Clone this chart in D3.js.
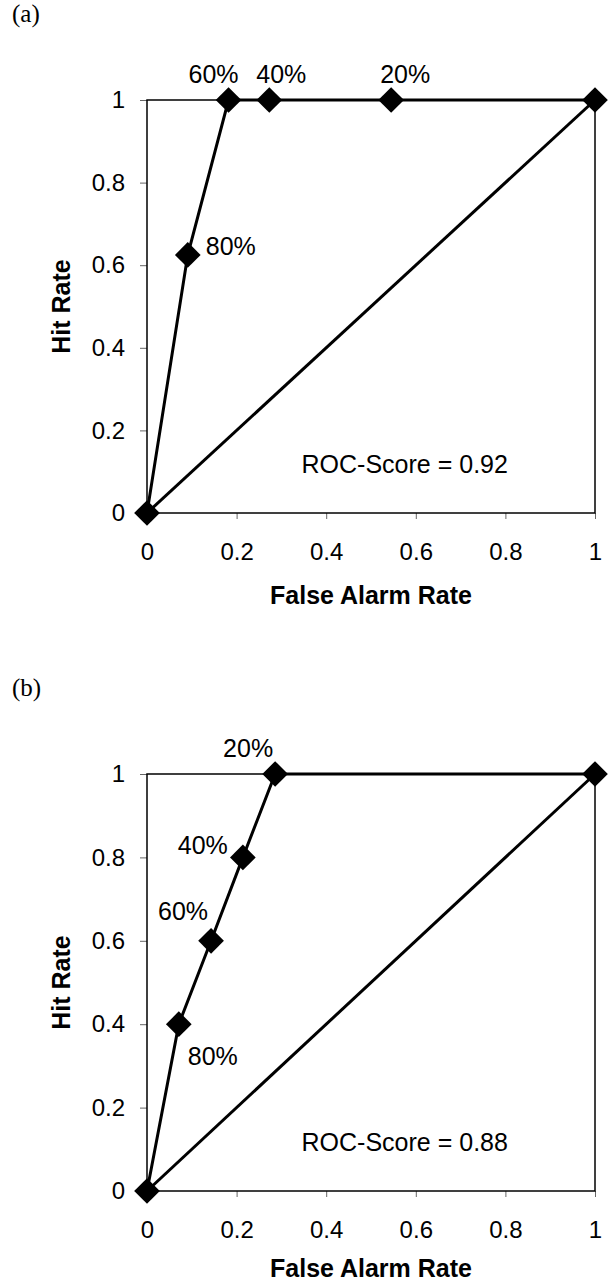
<!DOCTYPE html>
<html>
<head>
<meta charset="utf-8">
<script src="https://cdn.jsdelivr.net/npm/d3@7"></script>
<style>
  body { margin: 0; background: #fff; }
  text { font-family: "Liberation Sans", Arial, sans-serif; fill: #000; }
</style>
</head>
<body>
<div id="chart"></div>
<script>
// values
let panelNames = ["(a)", "(b)"];
let farA = [0, 0.091, 0.182, 0.273, 0.545, 1];
let hitA = [0, 0.625, 1, 1, 1, 1];
let labA = ["", "80%", "60%", "40%", "20%", ""];
let farB = [0, 0.071, 0.143, 0.214, 0.286, 1];
let hitB = [0, 0.4, 0.6, 0.8, 1, 1];
let labB = ["", "80%", "60%", "40%", "20%", ""];
let rocScores = ["0.92", "0.88"];
let axisTicks = [0, 0.2, 0.4, 0.6, 0.8, 1];

// layout only (label nudges in px, panel frames)
let nudgeA = { "80%": [18, 0, "start"], "60%": [-15, -17, "middle"], "40%": [12, -17, "middle"], "20%": [14, -17, "middle"] };
let nudgeB = { "80%": [9, 41, "start"], "60%": [-3, -21, "end"], "40%": [-15, -3, "end"], "20%": [-2, -17, "end"] };

const W = 612, H = 1283;
const left = 147, right = 595;

let svg = d3.select("#chart").append("svg")
    .attr("width", W)
    .attr("height", H);

function drawPanel(name, far, hit, labels, nudge, score, top, bottom) {
    let x = d3.scaleLinear().domain([0, 1]).range([left, right]);
    let y = d3.scaleLinear().domain([0, 1]).range([bottom, top]);
    let g = svg.append("g");
    let pts = far.map((d, i) => ({ x: d, y: hit[i], lab: labels[i] }));

    // panel label
    g.append("text")
        .attr("x", 12)
        .attr("y", top - 78)
        .style("font-family", "'Liberation Serif', 'Times New Roman', serif")
        .style("font-size", "25px")
        .text(name);

    // axes
    let fmt = d3.format("~g");
    let xAxis = g.append("g")
        .attr("transform", "translate(0," + bottom + ")")
        .call(d3.axisBottom(x).tickValues(axisTicks).tickFormat(fmt)
            .tickSizeInner(6).tickSizeOuter(0).tickPadding(24));
    let yAxis = g.append("g")
        .attr("transform", "translate(" + left + ",0)")
        .call(d3.axisLeft(y).tickValues(axisTicks).tickFormat(fmt)
            .tickSizeInner(7).tickSizeOuter(0).tickPadding(15));
    [xAxis, yAxis].forEach(a => {
        a.select(".domain").remove();
        a.selectAll(".tick line").attr("stroke", "#666").attr("stroke-width", 1);
        a.selectAll(".tick text").style("font-size", "24px").attr("fill", "#000");
    });

    // frame
    g.append("rect")
        .attr("x", left).attr("y", top)
        .attr("width", right - left).attr("height", bottom - top)
        .attr("fill", "none").attr("stroke", "#000").attr("stroke-width", 1.5);

    // no-skill diagonal
    let line = d3.line().x(d => x(d.x)).y(d => y(d.y));
    g.append("path")
        .datum([pts[0], pts[pts.length - 1]])
        .attr("d", line)
        .attr("fill", "none").attr("stroke", "#000").attr("stroke-width", 3);

    // ROC curve
    g.append("path")
        .datum(pts)
        .attr("d", line)
        .attr("fill", "none").attr("stroke", "#000").attr("stroke-width", 3);

    // diamonds
    g.selectAll(".pt")
        .data(pts)
        .enter()
        .append("path")
        .attr("d", d3.symbol(d3.symbolSquare, 330))
        .attr("transform", d => "translate(" + x(d.x) + "," + y(d.y) + ") rotate(45)")
        .attr("fill", "#000");

    // threshold labels
    g.selectAll(".lab")
        .data(pts.filter(d => d.lab))
        .enter()
        .append("text")
        .attr("x", d => x(d.x) + nudge[d.lab][0])
        .attr("y", d => y(d.y) + nudge[d.lab][1])
        .attr("text-anchor", d => nudge[d.lab][2])
        .style("font-size", "25px")
        .text(d => d.lab);

    // score
    g.append("text")
        .attr("x", x(0.345))
        .attr("y", bottom - 40)
        .style("font-size", "25px")
        .text("ROC-Score = " + score);

    // axis titles
    g.append("text")
        .attr("x", (left + right) / 2)
        .attr("y", Math.min(bottom + 91, H - 6))
        .attr("text-anchor", "middle")
        .style("font-size", "25px")
        .style("font-weight", "bold")
        .text("False Alarm Rate");
    g.append("text")
        .attr("transform", "translate(70," + ((top + bottom) / 2) + ") rotate(-90)")
        .attr("text-anchor", "middle")
        .style("font-size", "25px")
        .style("font-weight", "bold")
        .text("Hit Rate");
}

drawPanel(panelNames[0], farA, hitA, labA, nudgeA, rocScores[0], 100, 513);
drawPanel(panelNames[1], farB, hitB, labB, nudgeB, rocScores[1], 774, 1191);
</script>
</body>
</html>
